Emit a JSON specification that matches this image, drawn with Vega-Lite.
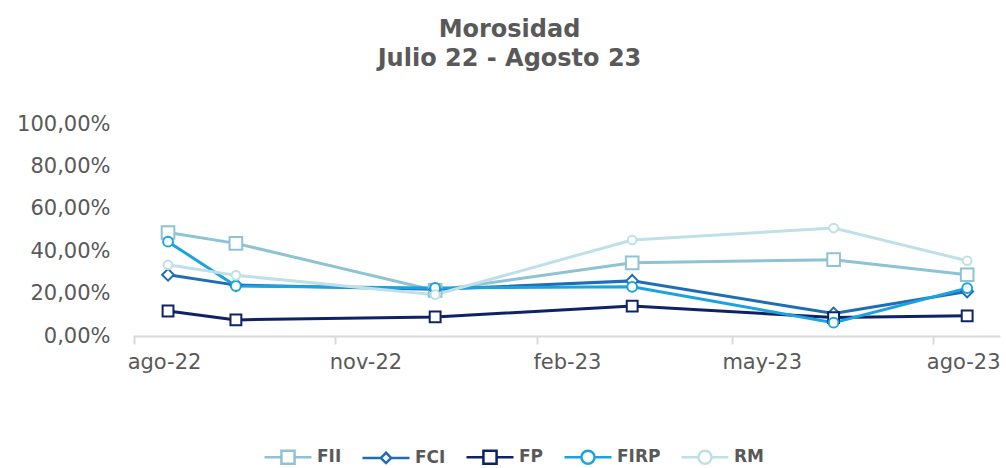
{
  "$schema": "https://vega.github.io/schema/vega-lite/v6.json",
  "width": 867,
  "height": 212,
  "autosize": {"type": "none"},
  "padding": {"left": 133, "top": 124, "right": 6, "bottom": 132},
  "background": "white",
  "config": {"view": {"stroke": null}},
  "title": {
    "text": ["Morosidad", "Julio 22 - Agosto 23"],
    "anchor": "middle",
    "frame": "group",
    "dx": -57,
    "offset": 42,
    "font": "DejaVu Sans",
    "fontSize": 24,
    "fontWeight": "bold",
    "color": "#595959",
    "lineHeight": 29
  },
  "data": {
    "values": [
      {"date": "2022-08-01", "serie": "FII", "valor": 48.8},
      {"date": "2022-09-01", "serie": "FII", "valor": 43.7},
      {"date": "2022-12-01", "serie": "FII", "valor": 21.5},
      {"date": "2023-03-01", "serie": "FII", "valor": 34.5},
      {"date": "2023-06-01", "serie": "FII", "valor": 36.0},
      {"date": "2023-08-01", "serie": "FII", "valor": 28.9},
      {"date": "2022-08-01", "serie": "FCI", "valor": 28.9},
      {"date": "2022-09-01", "serie": "FCI", "valor": 24.0},
      {"date": "2022-12-01", "serie": "FCI", "valor": 22.0},
      {"date": "2023-03-01", "serie": "FCI", "valor": 26.0},
      {"date": "2023-06-01", "serie": "FCI", "valor": 10.6},
      {"date": "2023-08-01", "serie": "FCI", "valor": 21.0},
      {"date": "2022-08-01", "serie": "FP", "valor": 11.8},
      {"date": "2022-09-01", "serie": "FP", "valor": 7.6},
      {"date": "2022-12-01", "serie": "FP", "valor": 9.0},
      {"date": "2023-03-01", "serie": "FP", "valor": 14.1},
      {"date": "2023-06-01", "serie": "FP", "valor": 8.7},
      {"date": "2023-08-01", "serie": "FP", "valor": 9.5},
      {"date": "2022-08-01", "serie": "FIRP", "valor": 44.5},
      {"date": "2022-09-01", "serie": "FIRP", "valor": 23.6},
      {"date": "2022-12-01", "serie": "FIRP", "valor": 22.7},
      {"date": "2023-03-01", "serie": "FIRP", "valor": 23.2},
      {"date": "2023-06-01", "serie": "FIRP", "valor": 6.3},
      {"date": "2023-08-01", "serie": "FIRP", "valor": 22.6},
      {"date": "2022-08-01", "serie": "RM", "valor": 33.6},
      {"date": "2022-09-01", "serie": "RM", "valor": 28.6},
      {"date": "2022-12-01", "serie": "RM", "valor": 19.5},
      {"date": "2023-03-01", "serie": "RM", "valor": 45.3},
      {"date": "2023-06-01", "serie": "RM", "valor": 50.9},
      {"date": "2023-08-01", "serie": "RM", "valor": 35.5}
    ]
  },
  "encoding": {
    "x": {
      "field": "date",
      "type": "temporal",
      "scale": {
        "type": "utc",
        "domain": [
          {"year": 2022, "month": 7, "date": 16, "utc": true},
          {"year": 2023, "month": 8, "date": 16, "utc": true}
        ]
      },
      "axis": {
        "title": null,
        "grid": false,
        "values": [
          {"year": 2022, "month": 8, "date": 1, "utc": true},
          {"year": 2022, "month": 11, "date": 1, "utc": true},
          {"year": 2023, "month": 2, "date": 1, "utc": true},
          {"year": 2023, "month": 5, "date": 1, "utc": true},
          {"year": 2023, "month": 8, "date": 1, "utc": true}
        ],
        "labelExpr": "['ene','feb','mar','abr','may','jun','jul','ago','sep','oct','nov','dic'][utcmonth(datum.value)] + '-' + utcFormat(datum.value, '%y')",
        "tickOffset": -34,
        "labelOffset": 30,
        "tickSize": 8,
        "tickWidth": 2,
        "tickColor": "#d9d9d9",
        "domainColor": "#d9d9d9",
        "domainWidth": 2,
        "labelFont": "DejaVu Sans",
        "labelFontSize": 21,
        "labelColor": "#595959",
        "labelPadding": 7,
        "labelFlush": false,
        "labelOverlap": false,
        "labelBound": false
      }
    },
    "y": {
      "field": "valor",
      "type": "quantitative",
      "scale": {"domain": [0, 100], "nice": false},
      "axis": {
        "title": null,
        "grid": false,
        "domain": false,
        "ticks": false,
        "values": [0, 20, 40, 60, 80, 100],
        "labelExpr": "replace(format(datum.value, '.2f'), '.', ',') + '%'",
        "labelFont": "DejaVu Sans",
        "labelFontSize": 21,
        "labelColor": "#595959",
        "labelPadding": 23
      }
    }
  },
  "layer": [
    {
      "mark": {"type": "line", "strokeWidth": 3},
      "encoding": {
        "color": {
          "field": "serie",
          "type": "nominal",
          "scale": {
            "domain": ["FII", "FCI", "FP", "FIRP", "RM"],
            "range": ["#8ec3d4", "#1f6db5", "#0e2268", "#1ba3df", "#bfe0e8"]
          },
          "legend": null
        }
      }
    },
    {
      "mark": {"type": "point", "filled": false, "fill": "white", "fillOpacity": 1, "opacity": 1, "strokeWidth": 2},
      "encoding": {
        "color": {
          "field": "serie",
          "type": "nominal",
          "scale": {
            "domain": ["FII", "FCI", "FP", "FIRP", "RM"],
            "range": ["#8ec3d4", "#1f6db5", "#0e2268", "#1ba3df", "#bfe0e8"]
          },
          "legend": null
        },
        "shape": {
          "field": "serie",
          "type": "nominal",
          "scale": {
            "domain": ["FII", "FCI", "FP", "FIRP", "RM"],
            "range": ["square", "diamond", "square", "circle", "circle"]
          },
          "legend": null
        },
        "size": {
          "field": "serie",
          "type": "nominal",
          "scale": {
            "domain": ["FII", "FCI", "FP", "FIRP", "RM"],
            "range": [160, 75, 170, 140, 140]
          },
          "legend": null
        }
      }
    },
    {
      "mark": {"type": "point", "filled": false, "opacity": 0},
      "encoding": {
        "color": {
          "field": "serie",
          "type": "nominal",
          "scale": {
            "domain": ["FII", "FCI", "FP", "FIRP", "RM"],
            "range": ["#8ec3d4", "#1f6db5", "#0e2268", "#1ba3df", "#bfe0e8"]
          },
          "legend": {
            "orient": "none",
            "legendX": 130,
            "legendY": 308,
            "direction": "horizontal",
            "columns": 5,
            "title": null,
            "symbolSize": 2209,
            "symbolStrokeWidth": 2.5,
            "labelFont": "DejaVu Sans",
            "labelFontWeight": "bold",
            "labelFontSize": 17,
            "labelColor": "#595959",
            "labelOffset": 4,
            "columnPadding": 15,
            "encode": {
              "symbols": {
                "update": {
                  "opacity": {"value": 1},
                  "fill": {"value": "white"},
                  "fillOpacity": {"value": 1},
                  "strokeWidth": {"value": 2.5},
                  "size": {"value": 2209}
                }
              }
            }
          }
        },
        "shape": {
          "field": "serie",
          "type": "nominal",
          "scale": {
            "domain": ["FII", "FCI", "FP", "FIRP", "RM"],
            "range": [
              "M-1,0H-0.28M0.28,0H1M-0.28,-0.28H0.28V0.28H-0.28Z",
              "M-1,0H-0.22M0.22,0H1M0,-0.22L0.22,0L0,0.22L-0.22,0Z",
              "M-1,0H-0.28M0.28,0H1M-0.28,-0.28H0.28V0.28H-0.28Z",
              "M-1,0H-0.28M0.28,0H1M-0.28,0A0.28,0.28,0,1,1,0.28,0A0.28,0.28,0,1,1,-0.28,0Z",
              "M-1,0H-0.28M0.28,0H1M-0.28,0A0.28,0.28,0,1,1,0.28,0A0.28,0.28,0,1,1,-0.28,0Z"
            ]
          },
          "legend": {
            "orient": "none",
            "legendX": 130,
            "legendY": 308,
            "direction": "horizontal",
            "columns": 5,
            "title": null,
            "symbolSize": 2209,
            "symbolStrokeWidth": 2.5,
            "labelFont": "DejaVu Sans",
            "labelFontWeight": "bold",
            "labelFontSize": 17,
            "labelColor": "#595959",
            "labelOffset": 4,
            "columnPadding": 15,
            "encode": {
              "symbols": {
                "update": {
                  "opacity": {"value": 1},
                  "fill": {"value": "white"},
                  "fillOpacity": {"value": 1},
                  "strokeWidth": {"value": 2.5},
                  "size": {"value": 2209}
                }
              }
            }
          }
        }
      }
    }
  ],
  "resolve": {"scale": {"color": "independent", "shape": "independent", "size": "independent"}}
}
